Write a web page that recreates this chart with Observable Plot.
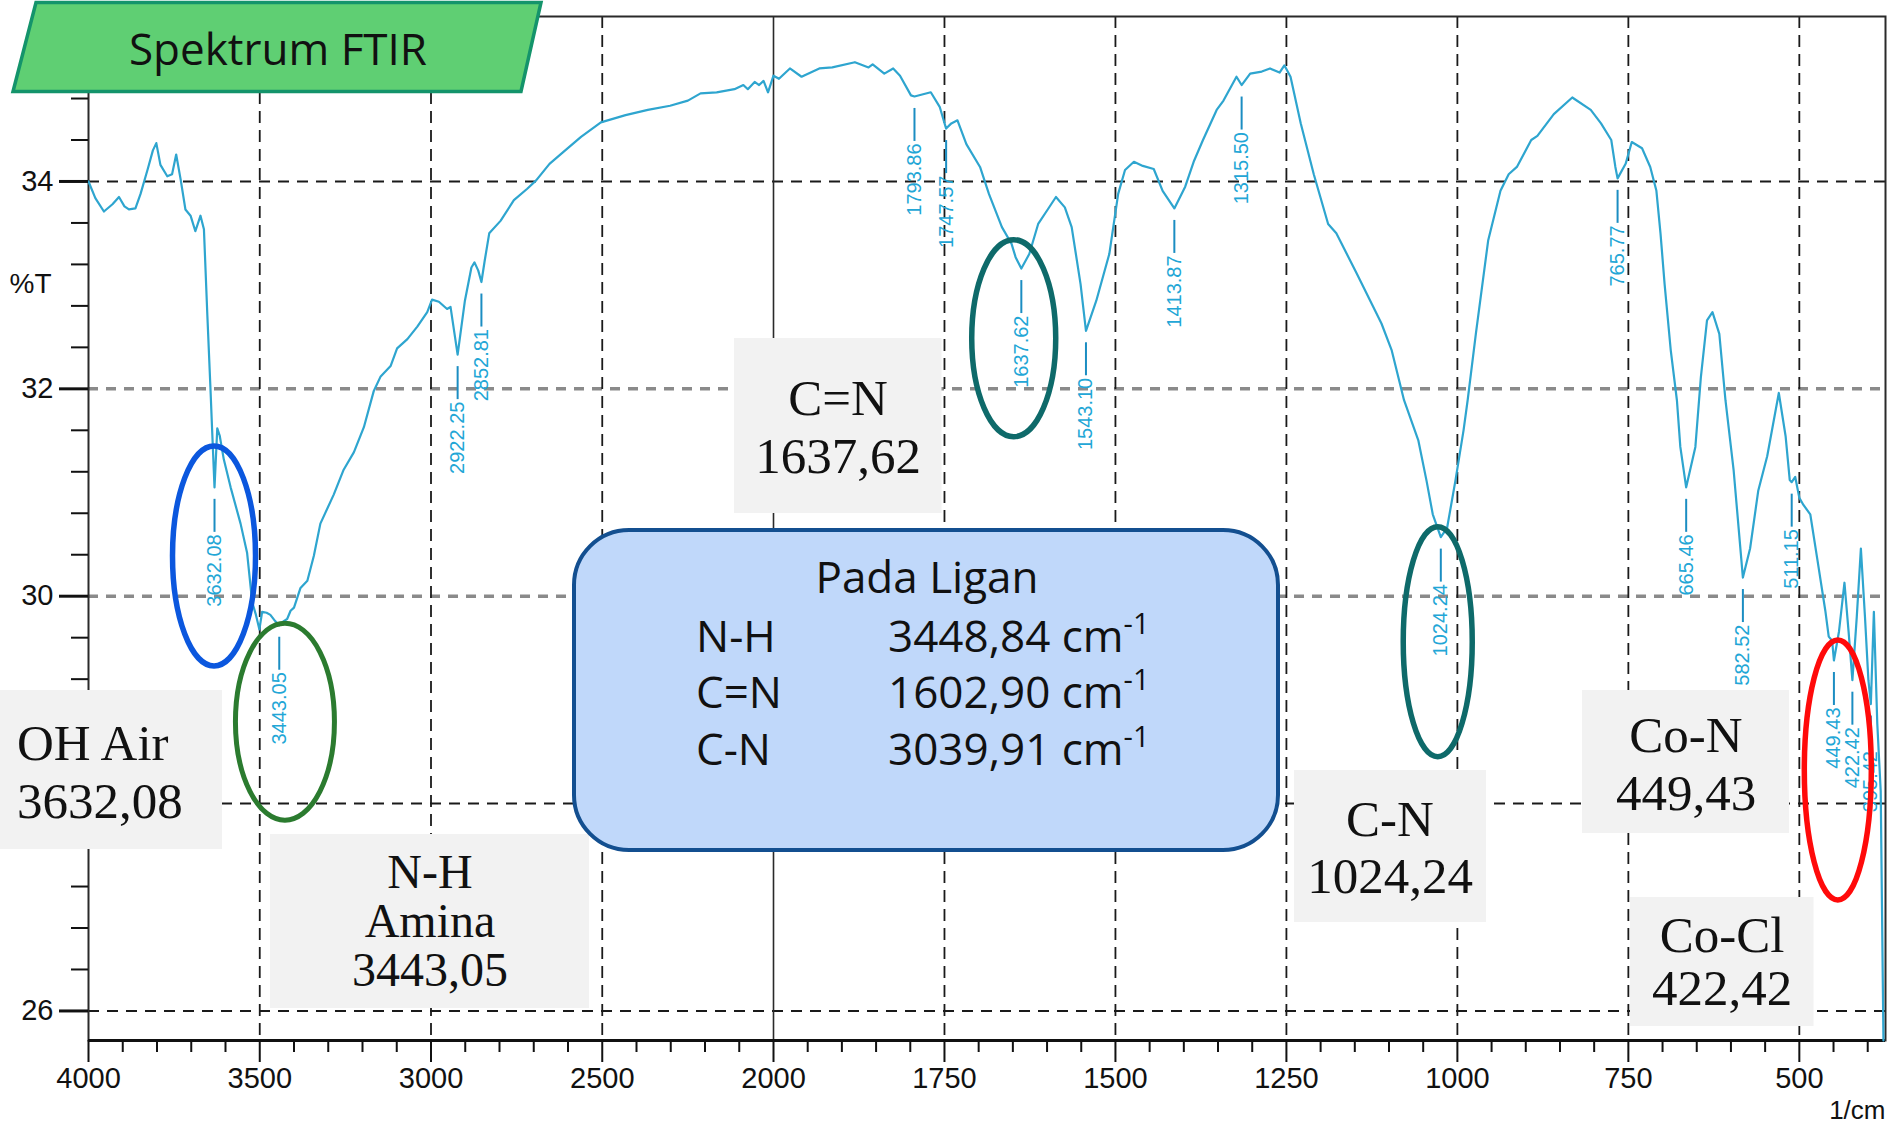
<!DOCTYPE html>
<html>
<head>
<meta charset="utf-8">
<script src="https://cdn.jsdelivr.net/npm/d3@7"></script>
<script src="https://cdn.jsdelivr.net/npm/@observablehq/plot@0.6"></script>
<style>
  html, body { margin: 0; padding: 0; background: #ffffff; }
  #chart { position: relative; width: 1893px; height: 1132px; overflow: hidden; }
</style>
</head>
<body>
<div id="chart"></div>
<script>
// ---------------- DATA ----------------
const wavenumber = [4000,3980,3955,3930,3911,3895,3882,3863,3848,3827,3812,3802,3790,3770,3756,3744,3731,3717,3702,3688,3673,3663,3653,3644,3639,3632.08,3624,3617,3605,3585,3556,3537,3522,3512,3501,3493,3480,3469,3455,3443.05,3430,3420,3410,3400,3381,3361,3342,3323,3284,3255,3225,3196,3167,3147,3118,3099,3069,3040,3011,2997,2977,2953,2943,2922.25,2901,2882,2873,2862,2852.81,2843,2830,2797,2758,2719,2693,2654,2615,2562,2504,2432,2367,2302,2250,2213,2166,2114,2088,2075,2055,2042,2029,2016,2000,1992,1976,1959,1933,1914,1881,1861,1855,1838,1825,1815,1799,1793.86,1770,1757,1747.57,1740,1731,1718,1698,1685,1666,1652,1646,1637.62,1626,1613,1600,1587,1574,1564,1551,1543.10,1528,1509,1496,1486,1473,1460,1444,1431,1413.87,1398,1385,1372,1352,1342,1323,1315.50,1303,1286,1274,1260,1253,1244,1229,1210,1189,1177,1147,1111,1096,1078,1057,1045,1036,1024.24,1015,1003,991,985,973,955,937,925,913,892,883,859,832,805,790,775,769,765.77,754,745,730,718,709,703,697,688,679,674,665.46,652,644,635,627,617,608,596,582.52,572,560,547,530,520,514,511.15,506,500,494,484,474,462,457,452,449.43,442,434,428,422.42,416,410,404,399,395.42,391,386,381,377];
const transmittance = [34.00,33.84,33.71,33.78,33.85,33.76,33.73,33.74,33.88,34.12,34.30,34.37,34.16,34.05,34.07,34.26,34.02,33.73,33.67,33.52,33.67,33.54,32.71,32.01,31.60,31.05,31.62,31.55,31.32,31.05,30.70,30.42,29.94,29.83,29.68,29.85,29.84,29.82,29.76,29.72,29.76,29.78,29.86,29.89,30.08,30.15,30.39,30.70,30.98,31.22,31.39,31.63,31.98,32.12,32.22,32.39,32.48,32.60,32.74,32.86,32.84,32.77,32.79,32.33,32.85,33.17,33.22,33.14,33.03,33.24,33.50,33.62,33.82,33.93,34.01,34.17,34.28,34.43,34.57,34.64,34.69,34.73,34.78,34.85,34.86,34.89,34.93,34.89,34.96,34.93,34.97,34.86,35.02,34.99,35.09,35.01,35.09,35.10,35.15,35.10,35.13,35.04,35.09,35.02,34.83,34.82,34.86,34.72,34.51,34.56,34.59,34.36,34.14,33.88,33.56,33.40,33.27,33.16,33.30,33.59,33.72,33.85,33.75,33.56,33.01,32.56,32.85,33.30,33.88,34.11,34.19,34.15,34.12,33.91,33.74,33.95,34.20,34.40,34.69,34.78,35.01,34.93,35.04,35.06,35.09,35.05,35.12,35.01,34.56,34.07,33.59,33.50,33.11,32.63,32.37,31.89,31.50,31.11,30.79,30.57,30.66,31.11,31.60,31.89,32.53,33.43,33.91,34.07,34.14,34.40,34.44,34.65,34.81,34.69,34.56,34.40,34.14,34.03,34.17,34.38,34.32,34.14,33.91,33.50,33.01,32.37,31.89,31.44,31.05,31.44,32.11,32.66,32.74,32.53,31.89,31.21,30.18,30.46,31.02,31.35,31.96,31.54,31.12,31.10,31.15,30.95,30.88,30.79,30.37,29.86,29.61,29.57,29.38,29.66,30.13,29.66,29.19,29.80,30.46,29.80,29.19,28.96,29.85,28.77,28.12,25.715];

const peakWavenumbers = [3632.08,3443.05,2922.25,2852.81,1793.86,1747.57,1637.62,1543.10,1413.87,1315.50,1024.24,765.77,665.46,582.52,511.15,449.43,422.42,395.42];

const xMajorTicks = [4000,3500,3000,2500,2000,1750,1500,1250,1000,750,500];
const xMinorTicks = [3900,3800,3700,3600,3400,3300,3200,3100,2900,2800,2700,2600,2400,2300,2200,2100,1950,1900,1850,1800,1700,1650,1600,1550,1450,1400,1350,1300,1200,1150,1100,1050,950,900,850,800,700,650,600,550,450,400];
const xGridDashed = [3500,3000,2500,1750,1500,1250,1000,750,500];
const yMajorTicks = [26,28,30,32,34];
const yTickLabels = [26,30,32,34]; // the "28" label is hidden behind the OH Air box in the reference
const yMinorTicks = [26.4,26.8,27.2,27.6,28.4,28.8,29.2,29.6,30.4,30.8,31.2,31.6,32.4,32.8,33.2,33.6,34.4,34.8,35.2];
const yGridBlack = [26,28,34];
const yGridGray = [30,32];

const bandNames = ["OH Air","N-H\nAmina","C=N","C-N","Co-N","Co-Cl"];
const bandValues = ["3632,08","3443,05","1637,62","1024,24","449,43","422,42"];
const ligandTitle = "Pada Ligan";
const ligandGroups = ["N-H","C=N","C-N"];
const ligandValues = ["3448,84","1602,90","3039,91"];
const titleText = "Spektrum FTIR";

// ---------------- SCALES ----------------
const xScaleOpts = {type: "linear", domain: [4000, 2000, 374], range: [88, 773, 1885]};
const yScaleOpts = {type: "linear", domain: [25.715, 35.591], range: [1040, 16]};
const sx = Plot.scale({x: xScaleOpts});
const sy = Plot.scale({y: yScaleOpts});
const xAt = (px) => sx.invert(px);
const yAt = (px) => sy.invert(px);

const spectrum = wavenumber.map((w, i) => ({wn: w, t: transmittance[i]}));
const peaks = peakWavenumbers.map((w) => ({wn: w, t: transmittance[wavenumber.indexOf(w)]}));

const AXIS_FONT = "Liberation Sans, Arial, sans-serif";

const chart = Plot.plot({
  width: 1893,
  height: 1132,
  marginTop: 16, marginRight: 8, marginBottom: 92, marginLeft: 88,
  x: {...xScaleOpts, axis: null},
  y: {...yScaleOpts, axis: null},
  style: {background: "transparent", fontFamily: AXIS_FONT, overflow: "visible"},
  marks: [
    Plot.ruleY(yGridBlack, {stroke: "#1a1a1a", strokeWidth: 2, strokeDasharray: "11,8"}),
    Plot.ruleY(yGridGray, {stroke: "#8a8a8a", strokeWidth: 3.5, strokeDasharray: "10,8"}),
    Plot.ruleX(xGridDashed, {stroke: "#1a1a1a", strokeWidth: 1.8, strokeDasharray: "12,7"}),
    Plot.ruleX([2000], {stroke: "#2a2a2a", strokeWidth: 1.6}),
    Plot.frame({stroke: "#2a2a2a", strokeWidth: 2}),
    Plot.ruleY([25.715], {stroke: "#111", strokeWidth: 3}),
    Plot.line(spectrum, {x: "wn", y: "t", stroke: "#2ea5cf", strokeWidth: 2.2}),
    // peak markers
    Plot.ruleX(peaks, {x: "wn", y1: (d) => yAt(sy.apply(d.t) + 12), y2: (d) => yAt(sy.apply(d.t) + 45), stroke: "#1b8dc2", strokeWidth: 2}),
    Plot.text(peaks, {x: "wn", y: (d) => yAt(sy.apply(d.t) + 47), text: (d) => d.wn.toFixed(2), rotate: -90, textAnchor: "end", lineAnchor: "middle", fill: "#22a6d6", fontSize: 20, fontFamily: AXIS_FONT}),
    // x ticks
    Plot.ruleX(xMajorTicks, {x: (d) => d, y1: () => yAt(1040), y2: () => yAt(1062), stroke: "#111", strokeWidth: 2}),
    Plot.ruleX(xMinorTicks, {x: (d) => d, y1: () => yAt(1040), y2: () => yAt(1052), stroke: "#111", strokeWidth: 2}),
    Plot.text(xMajorTicks, {x: (d) => d, y: () => yAt(1078), text: (d) => String(d), fontSize: 29, fill: "#111", fontFamily: AXIS_FONT}),
    // y ticks
    Plot.ruleY(yMajorTicks, {y: (d) => d, x1: () => xAt(59), x2: () => 4000, stroke: "#111", strokeWidth: 3}),
    Plot.ruleY(yMinorTicks, {y: (d) => d, x1: () => xAt(71), x2: () => 4000, stroke: "#111", strokeWidth: 2}),
    Plot.text(yTickLabels, {x: () => xAt(53), y: (d) => d, text: (d) => String(d), textAnchor: "end", fontSize: 29, fill: "#111", fontFamily: AXIS_FONT}),
    Plot.text(["%T"], {x: () => xAt(30), y: () => yAt(284), text: (d) => d, fontSize: 28, fill: "#111", fontFamily: AXIS_FONT}),
    Plot.text(["1/cm"], {x: () => xAt(1885), y: () => yAt(1110), text: (d) => d, textAnchor: "end", fontSize: 26, fill: "#111", fontFamily: AXIS_FONT})
  ]
});

document.getElementById("chart").appendChild(chart);

// ---------------- ANNOTATION OVERLAY ----------------
const svg = d3.select(chart);
const ov = svg.append("g").attr("class", "annotations").attr("text-anchor", "start");
const SERIF = "Liberation Serif, Times New Roman, serif";
const SANS = "Open Sans, Noto Sans, sans-serif";

// title banner
ov.append("polygon")
  .attr("points", "36,2.5 541,2.5 521,91.5 13,91.5")
  .attr("fill", "#5fcf73").attr("stroke", "#14946b").attr("stroke-width", 3.5);
ov.append("text").attr("x", 278).attr("y", 65).attr("text-anchor", "middle")
  .attr("font-family", SANS).attr("font-size", 44).attr("fill", "#111").text(titleText);

// gray band labels
const boxes = [
  {x: 0, y: 690, w: 222, h: 159, anchor: "start", tx: 17, base: [760, 818], size: 51},
  {x: 270, y: 834, w: 319, h: 174, anchor: "middle", tx: 430, base: [888, 937, 986], size: 48},
  {x: 734, y: 338, w: 207.5, h: 175, anchor: "middle", tx: 838, base: [415, 473], size: 51},
  {x: 1294, y: 770, w: 192, h: 152, anchor: "middle", tx: 1390, base: [836, 893], size: 51},
  {x: 1582, y: 690, w: 207, h: 143, anchor: "middle", tx: 1686, base: [752, 810], size: 51},
  {x: 1630, y: 897, w: 183.5, h: 129, anchor: "middle", tx: 1722, base: [952, 1005], size: 51}
];
boxes.forEach((b, i) => {
  ov.append("rect").attr("x", b.x).attr("y", b.y).attr("width", b.w).attr("height", b.h).attr("fill", "#f2f2f2");
  const lines = bandNames[i].split("\n").concat([bandValues[i]]);
  lines.forEach((ln, j) => {
    ov.append("text").attr("x", b.tx).attr("y", b.base[j]).attr("text-anchor", b.anchor)
      .attr("font-family", SERIF).attr("font-size", b.size).attr("fill", "#111").text(ln);
  });
});

// ligand box
ov.append("rect").attr("x", 574).attr("y", 530).attr("width", 704).attr("height", 320).attr("rx", 55).attr("ry", 55)
  .attr("fill", "#c0d8fa").attr("stroke", "#134f90").attr("stroke-width", 4);
ov.append("text").attr("x", 927).attr("y", 593).attr("text-anchor", "middle")
  .attr("font-family", SANS).attr("font-size", 44).attr("fill", "#111").text(ligandTitle);
const rowBase = [652, 708, 765];
ligandGroups.forEach((g, i) => {
  ov.append("text").attr("x", 696).attr("y", rowBase[i]).attr("text-anchor", "start")
    .attr("font-family", SANS).attr("font-size", 44).attr("fill", "#111").text(g);
  const t = ov.append("text").attr("x", 888).attr("y", rowBase[i]).attr("text-anchor", "start")
    .attr("font-family", SANS).attr("font-size", 44).attr("fill", "#111");
  t.append("tspan").text(ligandValues[i] + " cm");
  t.append("tspan").attr("dy", -18).attr("font-size", 29).text("-1");
});

// ellipses (anchored in data space)
const ellipses = [
  {wn: 3632.08, t: 30.384, rx: 41.5, ry: 110, color: "#0b57de", w: 5.5},
  {wn: 3425, t: 28.785, rx: 49.5, ry: 98.5, color: "#2b7b2f", w: 5},
  {wn: 1648, t: 32.483, rx: 42, ry: 98.5, color: "#0e6a6a", w: 5.5},
  {wn: 1028, t: 29.557, rx: 34.5, ry: 115, color: "#0e6a6a", w: 5.5},
  {wn: 443, t: 28.32, rx: 33.5, ry: 130, color: "#ff0a0a", w: 5.5}
];
ellipses.forEach((e) => {
  ov.append("ellipse").attr("cx", sx.apply(e.wn)).attr("cy", sy.apply(e.t)).attr("rx", e.rx).attr("ry", e.ry)
    .attr("fill", "none").attr("stroke", e.color).attr("stroke-width", e.w);
});
</script>
</body>
</html>
